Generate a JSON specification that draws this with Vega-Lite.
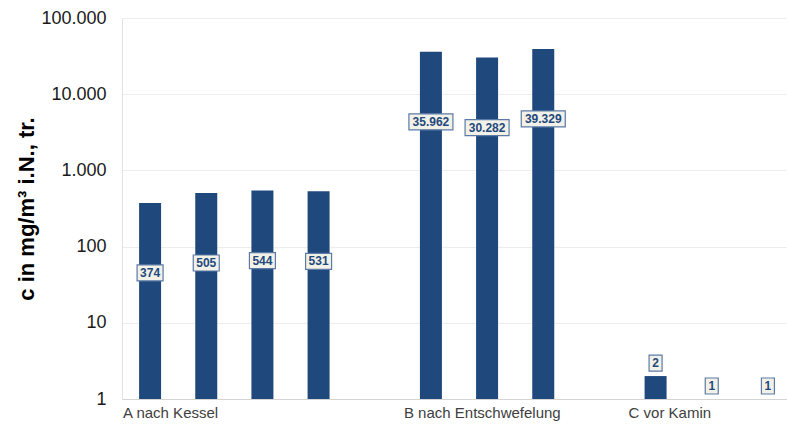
{
  "$schema": "https://vega.github.io/schema/vega-lite/v6.json",
  "autosize": "none",
  "width": 674,
  "height": 381,
  "padding": {"left": 122, "top": 18, "right": 0, "bottom": 31},
  "background": "#ffffff",
  "config": {
    "view": {"stroke": null},
    "locale": {
      "number": {"decimal": ",", "thousands": ".", "grouping": [3], "currency": ["", " €"]}
    },
    "font": "Liberation Sans"
  },
  "data": {
    "values": [
      {"slot": 1, "gruppe": "A nach Kessel", "wert": 374},
      {"slot": 2, "gruppe": "A nach Kessel", "wert": 505},
      {"slot": 3, "gruppe": "A nach Kessel", "wert": 544},
      {"slot": 4, "gruppe": "A nach Kessel", "wert": 531},
      {"slot": 6, "gruppe": "B nach Entschwefelung", "wert": 35962},
      {"slot": 7, "gruppe": "B nach Entschwefelung", "wert": 30282},
      {"slot": 8, "gruppe": "B nach Entschwefelung", "wert": 39329},
      {"slot": 10, "gruppe": "C vor Kamin", "wert": 2},
      {"slot": 11, "gruppe": "C vor Kamin", "wert": 1},
      {"slot": 12, "gruppe": "C vor Kamin", "wert": 1}
    ]
  },
  "encoding": {
    "x": {
      "field": "slot",
      "type": "ordinal",
      "scale": {"domain": [1, 2, 3, 4, 5, 6, 7, 8, 9, 10, 11, 12], "paddingInner": 0, "paddingOuter": 0},
      "axis": {
        "title": null,
        "labelAngle": 0,
        "labelAlign": "left",
        "labelBaseline": "top",
        "labelOffset": -27,
        "labelPadding": 6,
        "labelFont": "Liberation Sans",
        "labelFontSize": 15,
        "labelColor": "#404040",
        "labelOverlap": false,
        "labelBound": false,
        "labelExpr": "datum.value == 1 ? 'A nach Kessel' : datum.value == 6 ? 'B nach Entschwefelung' : datum.value == 10 ? 'C vor Kamin' : ''",
        "ticks": false,
        "domainColor": "#d4d4d4",
        "domainWidth": 1,
        "grid": false
      }
    },
    "y": {
      "field": "wert",
      "type": "quantitative",
      "scale": {"type": "log", "domain": [1, 100000], "nice": false},
      "axis": {
        "title": "c in mg/m³ i.N., tr.",
        "titleFont": "Liberation Sans",
        "titleFontSize": 22,
        "titleFontWeight": "bold",
        "titleColor": "#000000",
        "titleAngle": 270,
        "titleAlign": "center",
        "titleBaseline": "alphabetic",
        "titleX": -89,
        "titleY": 190.5,
        "values": [1, 10, 100, 1000, 10000, 100000],
        "format": ",d",
        "labelFont": "Liberation Sans",
        "labelFontSize": 18,
        "labelColor": "#1a1a1a",
        "labelPadding": 16,
        "ticks": false,
        "domainColor": "#e2e2e2",
        "gridColor": "#ededed",
        "gridWidth": 1
      }
    }
  },
  "layer": [
    {
      "mark": {"type": "bar", "width": 22, "color": "#1f497d"},
      "encoding": {"y2": {"datum": 1}}
    },
    {
      "transform": [{"filter": "datum.wert >= 10000"}],
      "mark": {"type": "bar", "width": 44, "fill": "#f2f1e8", "stroke": "#5b7aa6", "strokeWidth": 1.2, "yOffset": 62, "y2Offset": 78},
      "encoding": {"y2": {"field": "wert"}}
    },
    {
      "transform": [{"filter": "datum.wert >= 100 && datum.wert < 10000"}],
      "mark": {"type": "bar", "width": 26, "fill": "#f2f1e8", "stroke": "#5b7aa6", "strokeWidth": 1.2, "yOffset": 62, "y2Offset": 78},
      "encoding": {"y2": {"field": "wert"}}
    },
    {
      "transform": [{"filter": "datum.wert < 10"}],
      "mark": {"type": "bar", "width": 13, "fill": "#f2f1e8", "stroke": "#5b7aa6", "strokeWidth": 1.2, "yOffset": -21, "y2Offset": -5},
      "encoding": {"y2": {"field": "wert"}}
    },
    {
      "transform": [{"filter": "datum.wert >= 100"}],
      "mark": {"type": "text", "font": "Liberation Sans", "fontSize": 12, "fontWeight": "bold", "color": "#1f497d", "baseline": "middle", "align": "center", "dy": 70},
      "encoding": {"text": {"field": "wert", "type": "quantitative", "format": ",d"}}
    },
    {
      "transform": [{"filter": "datum.wert < 10"}],
      "mark": {"type": "text", "font": "Liberation Sans", "fontSize": 12, "fontWeight": "bold", "color": "#1f497d", "baseline": "middle", "align": "center", "dy": -13},
      "encoding": {"text": {"field": "wert", "type": "quantitative", "format": ",d"}}
    }
  ]
}
